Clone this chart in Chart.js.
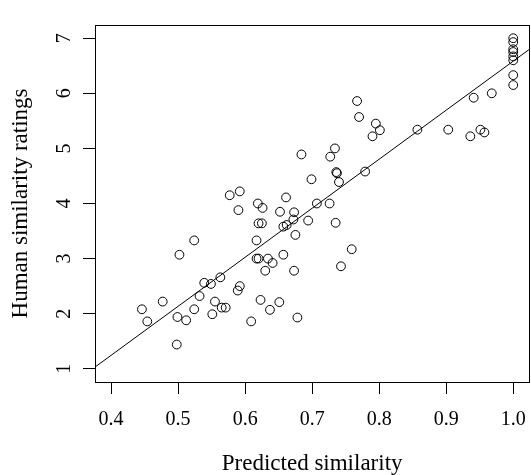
<!DOCTYPE html>
<html>
<head>
<meta charset="utf-8">
<script src="https://cdn.jsdelivr.net/npm/chart.js@4"></script>
<style>
  html, body { margin: 0; padding: 0; background: #fff; overflow: hidden; }
  #wrap { width: 540px; height: 475px; }
</style>
</head>
<body>
<div id="wrap"><canvas id="c" width="540" height="475"></canvas></div>
<script>
// Predicted similarity (x) and human similarity ratings (y)
const predicted = [
  0.446, 0.454, 0.477, 0.498, 0.499, 0.502, 0.512, 0.524, 0.524, 0.532,
  0.539, 0.549, 0.551, 0.555, 0.563, 0.565, 0.571, 0.577, 0.589, 0.590,
  0.592, 0.592, 0.609, 0.617, 0.617, 0.619, 0.620, 0.620, 0.623, 0.625,
  0.626, 0.630, 0.634, 0.637, 0.641, 0.651, 0.652, 0.657, 0.657, 0.661,
  0.662, 0.672, 0.673, 0.673, 0.675, 0.678, 0.684, 0.694, 0.699, 0.707,
  0.726, 0.727, 0.734, 0.735, 0.736, 0.737, 0.740, 0.743, 0.759, 0.767,
  0.770, 0.779, 0.790, 0.795, 0.801, 0.857, 0.903, 0.936, 0.941, 0.951,
  0.957, 0.968, 1.0, 1.0, 1.0, 1.0, 1.0, 1.0, 1.0, 1.0
];
const human = [
  2.08, 1.86, 2.22, 1.44, 1.94, 3.07, 1.88, 2.08, 3.33, 2.32,
  2.56, 2.54, 1.99, 2.22, 2.66, 2.11, 2.11, 4.15, 2.42, 3.88,
  2.50, 4.22, 1.86, 3.33, 3.00, 4.00, 3.00, 3.64, 2.25, 3.64,
  3.92, 2.78, 3.00, 2.07, 2.92, 2.21, 3.85, 3.58, 3.07, 4.11,
  3.61, 3.71, 3.84, 2.78, 3.43, 1.93, 4.89, 3.69, 4.44, 4.00,
  4.00, 4.85, 5.00, 3.65, 4.57, 4.55, 4.39, 2.86, 3.17, 5.86,
  5.57, 4.58, 5.22, 5.45, 5.33, 5.34, 5.34, 5.22, 5.92, 5.34,
  5.29, 6.00, 7.00, 6.93, 6.80, 6.75, 6.67, 6.60, 6.33, 6.15
];
// Fitted regression line: human = intercept + slope * predicted
const intercept = -2.316;
const slope = 8.90;

const xTicks = [0.4, 0.5, 0.6, 0.7, 0.8, 0.9, 1.0];
const yTicks = [1, 2, 3, 4, 5, 6, 7];

const xMin = 0.376, xMax = 1.024;
const yMin = 0.76, yMax = 7.24;

const FONT = "'Liberation Serif', 'Times New Roman', serif";

const points = predicted.map((x, i) => ({ x: x, y: human[i] }));
const fitLine = [xMin, xMax].map(x => ({ x: x, y: intercept + slope * x }));

const boxPlugin = {
  id: 'box',
  afterDraw(chart) {
    const a = chart.chartArea;
    const ctx = chart.ctx;
    ctx.save();
    ctx.strokeStyle = '#000';
    ctx.lineWidth = 1;
    ctx.strokeRect(Math.round(a.left) + 0.5, Math.round(a.top) + 0.5,
                   Math.round(a.right - a.left), Math.round(a.bottom - a.top));
    ctx.restore();
  }
};

new Chart(document.getElementById('c'), {
  type: 'scatter',
  data: {
    datasets: [
      {
        label: 'ratings',
        data: points,
        pointStyle: 'circle',
        pointRadius: 4.4,
        pointBorderWidth: 1,
        pointBorderColor: '#000',
        pointBackgroundColor: 'rgba(0,0,0,0)',
        pointHoverRadius: 4.4,
        showLine: false
      },
      {
        type: 'line',
        label: 'fit',
        data: fitLine,
        borderColor: '#000',
        borderWidth: 1,
        pointRadius: 0,
        fill: false,
        tension: 0
      }
    ]
  },
  options: {
    responsive: false,
    animation: false,
    devicePixelRatio: 1,
    events: [],
    layout: { padding: { left: 0, top: 12, right: 7, bottom: 0 } },
    plugins: { legend: { display: false }, tooltip: { enabled: false } },
    scales: {
      x: {
        type: 'linear',
        min: xMin, max: xMax,
        afterFit(s) { s.height = 93; },
        afterBuildTicks(s) { s.ticks = xTicks.map(v => ({ value: v })); },
        grid: { display: true, drawOnChartArea: false, drawTicks: true, tickLength: 12, color: '#000', lineWidth: 1 },
        border: { display: false },
        ticks: {
          color: '#000', padding: 14,
          font: { family: FONT, size: 20 },
          maxRotation: 0, minRotation: 0,
          callback: v => Number(v).toFixed(1)
        },
        title: {
          display: true, text: 'Predicted similarity', color: '#000',
          font: { family: FONT, size: 23 },
          padding: { top: 0, bottom: -3 }
        }
      },
      y: {
        type: 'linear',
        min: yMin, max: yMax,
        afterFit(s) { s.width = 95; },
        afterBuildTicks(s) { s.ticks = yTicks.map(v => ({ value: v })); },
        grid: { display: true, drawOnChartArea: false, drawTicks: true, tickLength: 12, color: '#000', lineWidth: 1 },
        border: { display: false },
        ticks: {
          color: '#000', padding: 13,
          font: { family: FONT, size: 20 },
          minRotation: 90, maxRotation: 90,
          crossAlign: 'center',
          callback: v => String(v)
        },
        title: {
          display: true, text: 'Human similarity ratings', color: '#000',
          font: { family: FONT, size: 23 },
          padding: { top: 7, bottom: 0 }
        }
      }
    }
  },
  plugins: [boxPlugin]
});
</script>
</body>
</html>
